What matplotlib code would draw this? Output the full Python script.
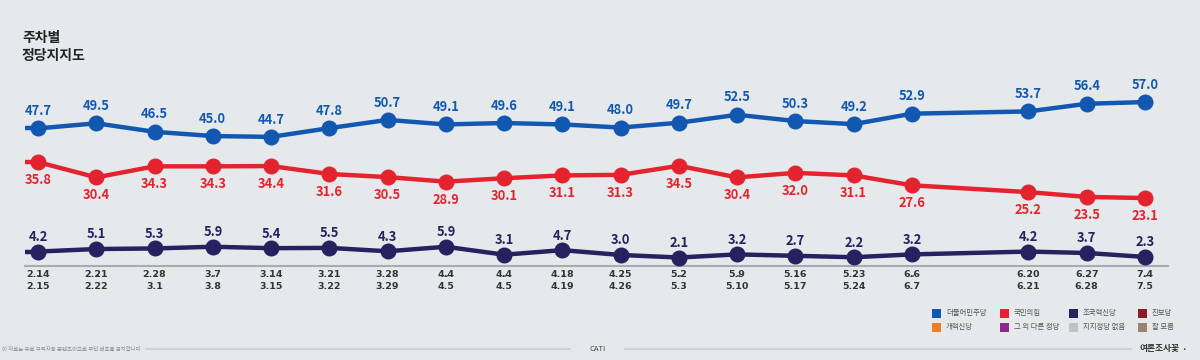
import matplotlib
matplotlib.use("Agg")
import matplotlib.pyplot as plt
from matplotlib.patches import Rectangle
from matplotlib.lines import Line2D

plt.rcParams['font.family'] = ['Noto Sans CJK KR', 'DejaVu Sans']

# ---- data ----
x_pos = [0, 1, 2, 3, 4, 5, 6, 7, 8, 9, 10, 11, 12, 13, 14, 15, 17, 18, 19]
tick_top = ["2.14", "2.21", "2.28", "3.7", "3.14", "3.21", "3.28", "4.4", "4.4", "4.18",
            "4.25", "5.2", "5.9", "5.16", "5.23", "6.6", "6.20", "6.27", "7.4"]
tick_bottom = ["2.15", "2.22", "3.1", "3.8", "3.15", "3.22", "3.29", "4.5", "4.5", "4.19",
               "4.26", "5.3", "5.10", "5.17", "5.24", "6.7", "6.21", "6.28", "7.5"]
democratic = [47.7, 49.5, 46.5, 45.0, 44.7, 47.8, 50.7, 49.1, 49.6, 49.1,
              48.0, 49.7, 52.5, 50.3, 49.2, 52.9, 53.7, 56.4, 57.0]
ppp = [35.8, 30.4, 34.3, 34.3, 34.4, 31.6, 30.5, 28.9, 30.1, 31.1,
       31.3, 34.5, 30.4, 32.0, 31.1, 27.6, 25.2, 23.5, 23.1]
rebuilding = [4.2, 5.1, 5.3, 5.9, 5.4, 5.5, 4.3, 5.9, 3.1, 4.7,
              3.0, 2.1, 3.2, 2.7, 2.2, 3.2, 4.2, 3.7, 2.3]

legend_names = ["더불어민주당", "국민의힘", "조국혁신당", "진보당",
                "개혁신당", "그 외 다른 정당", "지지정당 없음", "잘 모름"]
legend_colors = ["#1258b0", "#e3242f", "#26215f", "#8e1b22",
                 "#f07d24", "#8c2a8c", "#c2c2c2", "#9d8172"]

BG = "#e6e9ec"
BLUE, RED, NAVY = legend_colors[0], legend_colors[1], legend_colors[2]

W, H = 1200, 360
fig = plt.figure(figsize=(12, 3.6), dpi=100, facecolor=BG)

def fx(px):
    return px / W

def fy(py):
    return 1 - py / H

ax_left, ax_right, ax_top, ax_bot = 25, 1168, 90, 266
ax = fig.add_axes([fx(ax_left), fy(ax_bot), fx(ax_right - ax_left), (ax_bot - ax_top) / H])
ax.set_facecolor(BG)
px_per_x = (1145 - 38) / 19
xl = -(38 - ax_left) / px_per_x
xr = 19 + (ax_right - 1145) / px_per_x
ax.set_xlim(xl, xr)
ppu = 2.815
ax.set_ylim(2.3 - (ax_bot - 257) / ppu, 57.0 + (102 - ax_top) / ppu)
for s in ["top", "right", "left"]:
    ax.spines[s].set_visible(False)
ax.spines["bottom"].set_color("#a9abae")
ax.spines["bottom"].set_linewidth(1.5)
ax.set_xticks([])
ax.set_yticks([])

series = [(democratic, BLUE, 12.5), (ppp, RED, -13), (rebuilding, NAVY, 10.5)]
for vals, col, off in series:
    ax.plot([xl, x_pos[0]], [vals[0], vals[0]], color=col, lw=3.2, solid_capstyle='butt', zorder=2)
    ax.plot(x_pos, vals, color=col, lw=3.2, marker='o', markersize=10.5,
            markerfacecolor=col, markeredgecolor=col, zorder=3, solid_joinstyle='round')
    for xv, v in zip(x_pos, vals):
        ax.annotate(f"{v:.1f}", (xv, v), xytext=(0, off), textcoords='offset points',
                    ha='center', va='center', fontsize=9.3, fontweight='bold', color=col,
                    zorder=4)

# x tick labels (top date, small tilde, bottom date in one text)
for xv, t, b in zip(x_pos, tick_top, tick_bottom):
    xp = ax_left + (xv - xl) * px_per_x
    fig.text(fx(xp), fy(280.5), f"{t}\n\u02dc\n{b}", ha='center', va='center', fontsize=6.8,
             fontweight='bold', color="#333333", linespacing=0.62,
             family=['DejaVu Sans'])

# title
fig.text(fx(22), fy(38), "주차별", ha='left', va='center', fontsize=10,
         fontweight='bold', color="#222222")
fig.text(fx(22), fy(56), "정당지지도", ha='left', va='center', fontsize=10,
         fontweight='bold', color="#222222")

# legend
col_x = [932, 1000, 1069, 1138]
row_y = [313, 327]
sq = 9
for i, (name, c) in enumerate(zip(legend_names, legend_colors)):
    r, k = divmod(i, 4)
    x0, y0 = col_x[k], row_y[r]
    fig.patches.append(Rectangle((fx(x0), fy(y0 + sq / 2)), sq / W, sq / H,
                                 transform=fig.transFigure, facecolor=c, edgecolor='none'))
    fig.text(fx(x0 + sq + 5), fy(y0), name, ha='left', va='center', fontsize=5.3,
             color="#555555")

# footer
fy_foot = 349
fig.text(fx(2), fy(fy_foot), "이 자료는 유료 구독자용 콘텐츠이므로 무단 배포를 금지합니다",
         ha='left', va='center', fontsize=3.9, color="#8a8c90")
fig.add_artist(Line2D([fx(146), fx(570)], [fy(fy_foot), fy(fy_foot)],
                      transform=fig.transFigure, color="#cfd1d4", lw=1.5))
fig.text(fx(598), fy(fy_foot), "CATI", ha='center', va='center', fontsize=5.5,
         color="#444444")
fig.add_artist(Line2D([fx(625), fx(1131)], [fy(fy_foot), fy(fy_foot)],
                      transform=fig.transFigure, color="#cfd1d4", lw=1.5))
fig.text(fx(1139), fy(fy_foot), "여론조사꽃", ha='left', va='center', fontsize=6.3,
         fontweight='bold', color="#333333")
fig.text(fx(1184), fy(fy_foot), "·", ha='center', va='center', fontsize=6.5,
         fontweight='bold', color="#333333")

fig.savefig("out.png", dpi=100, facecolor=BG)
